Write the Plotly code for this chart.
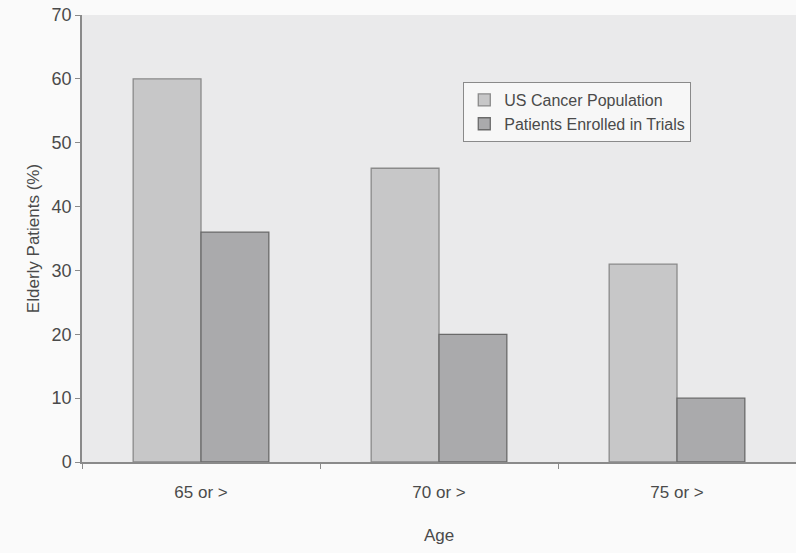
import plotly.graph_objects as go

categories = ["65 or >", "70 or >", "75 or >"]
us_population = [60, 46, 31]
enrolled_trials = [36, 20, 10]
series_names = ["US Cancer Population", "Patients Enrolled in Trials"]
y_ticks = [0, 10, 20, 30, 40, 50, 60, 70]

fig = go.Figure()
fig.add_trace(go.Bar(x=categories, y=us_population, name=series_names[0],
                     marker=dict(color="#c7c7c8", line=dict(color="#8a8a8a", width=1.3))))
fig.add_trace(go.Bar(x=categories, y=enrolled_trials, name=series_names[1],
                     marker=dict(color="#aaaaac", line=dict(color="#6a6a6a", width=1.3))))

font_family = "Liberation Sans, Arial, sans-serif"
text_color = "#4a4a4a"
fig.update_layout(
    width=796, height=553,
    margin=dict(l=82, r=0, t=15, b=91),
    paper_bgcolor="#fafafa",
    plot_bgcolor="#eaeaeb",
    barmode="group",
    bargap=0.43,
    bargroupgap=0,
    font=dict(family=font_family, size=17, color=text_color),
    showlegend=True,
    legend=dict(x=0.534, y=0.85, xanchor="left", yanchor="top",
                bgcolor="#f7f7f7", bordercolor="#8a8a8a", borderwidth=1,
                font=dict(size=16, color=text_color),
                itemwidth=30, tracegroupgap=0),
)
fig.update_xaxes(
    title=dict(text="Age", font=dict(size=17, color=text_color), standoff=28),
    showline=True, linecolor="#8a8a8a", linewidth=1.5,
    ticks="outside", tickson="boundaries", ticklen=5, tickcolor="#8a8a8a",
    ticklabelstandoff=14,
    showgrid=False, tickfont=dict(size=17, color=text_color),
)
fig.update_yaxes(
    title=dict(text="Elderly Patients (%)", font=dict(size=17, color=text_color), standoff=8),
    range=[0, 70], tickvals=y_ticks,
    showline=True, linecolor="#8a8a8a", linewidth=1.5,
    ticks="outside", ticklen=5, tickcolor="#8a8a8a",
    showgrid=False, zeroline=False, tickfont=dict(size=18, color=text_color),
)

fig.write_html("out.html", config={"displayModeBar": False},
               post_script="document.body.style.margin='0';")
